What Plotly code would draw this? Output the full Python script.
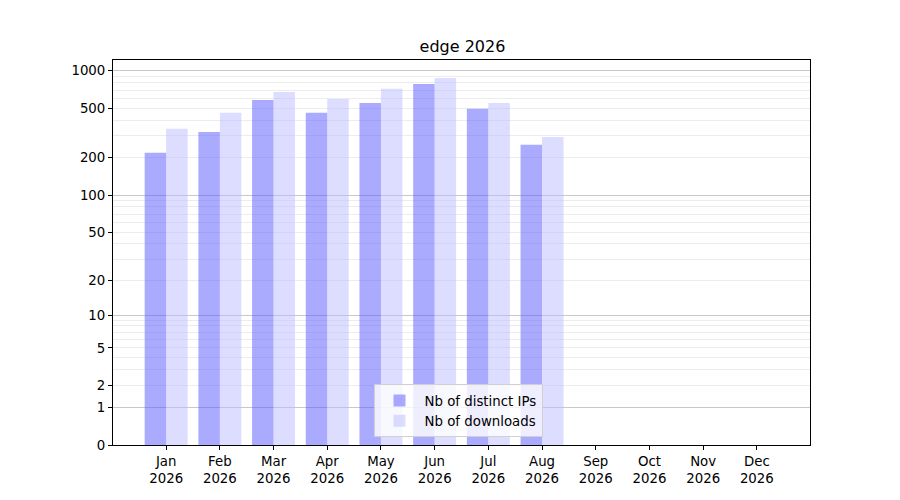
import plotly.graph_objects as go

months = ["Jan", "Feb", "Mar", "Apr", "May", "Jun", "Jul", "Aug", "Sep", "Oct", "Nov", "Dec"]
year = "2026"
ips = [219, 323, 584, 460, 552, 785, 495, 254]
downloads = [342, 460, 677, 595, 716, 876, 552, 294]
ytick_labels = [0, 1, 2, 5, 10, 20, 50, 100, 200, 500, 1000]
major_grid = [1, 10, 100, 1000]
minor_grid = [m * d for d in (1, 10, 100) for m in range(2, 10)]

x_pos = list(range(len(ips)))
font = "DejaVu Sans, Liberation Sans, sans-serif"

fig = go.Figure()
fig.add_trace(go.Bar(x=x_pos, y=[1 + v for v in ips], name="Nb of distinct IPs",
                     marker=dict(color="rgba(85,85,255,0.5)", line=dict(width=0))))
fig.add_trace(go.Bar(x=x_pos, y=[1 + v for v in downloads], name="Nb of downloads",
                     marker=dict(color="rgba(187,187,255,0.5)", line=dict(width=0))))
# invisible trace on overlay axis to host the major gridlines
fig.add_trace(go.Scatter(x=[0], y=[1], yaxis="y2", showlegend=False, hoverinfo="skip",
                         mode="markers", marker=dict(opacity=0)))

fig.update_layout(
    width=900, height=500,
    paper_bgcolor="white", plot_bgcolor="white",
    margin=dict(l=105, r=98, t=52, b=63),
    font=dict(family=font, size=13.33, color="black"),
    title=dict(text="edge 2026", x=0.505, xanchor="center", y=1 - 38 / 500, yanchor="middle",
               yref="container", font=dict(size=16)),
    barmode="group", bargap=0.2, bargroupgap=0,
    xaxis=dict(range=[-0.99, 11.99], tickmode="array", tickvals=list(range(12)),
               ticktext=[f"{m}<br>{year}" for m in months], showgrid=False, zeroline=False,
               ticks="outside", ticklen=4, tickcolor="black", showline=True, linecolor="black",
               linewidth=1, mirror=True),
    yaxis=dict(type="log", range=[0, 3.087], tickmode="array",
               tickvals=[1 + v for v in ytick_labels], ticktext=[str(v) for v in ytick_labels],
               showgrid=False, zeroline=False, ticks="outside", ticklen=4, tickcolor="black",
               showline=True, linecolor="black", linewidth=1, mirror=True,
               minor=dict(tickmode="array", tickvals=[1 + v for v in minor_grid], showgrid=True,
                          gridcolor="#ececec", gridwidth=1, ticks="")),
    yaxis2=dict(type="log", range=[0, 3.087], overlaying="y", tickmode="array",
                tickvals=[1 + v for v in major_grid], showticklabels=False, showgrid=True,
                gridcolor="#c8c8c8", gridwidth=1, zeroline=False, ticks="", showline=False),
    legend=dict(x=0.495, xanchor="center", y=0.02, yanchor="bottom",
                bgcolor="rgba(255,255,255,0.8)", bordercolor="#d0d0d0", borderwidth=1,
                font=dict(size=13.33), tracegroupgap=2, itemwidth=40),
    showlegend=True,
)

fig.write_html("out.html")
